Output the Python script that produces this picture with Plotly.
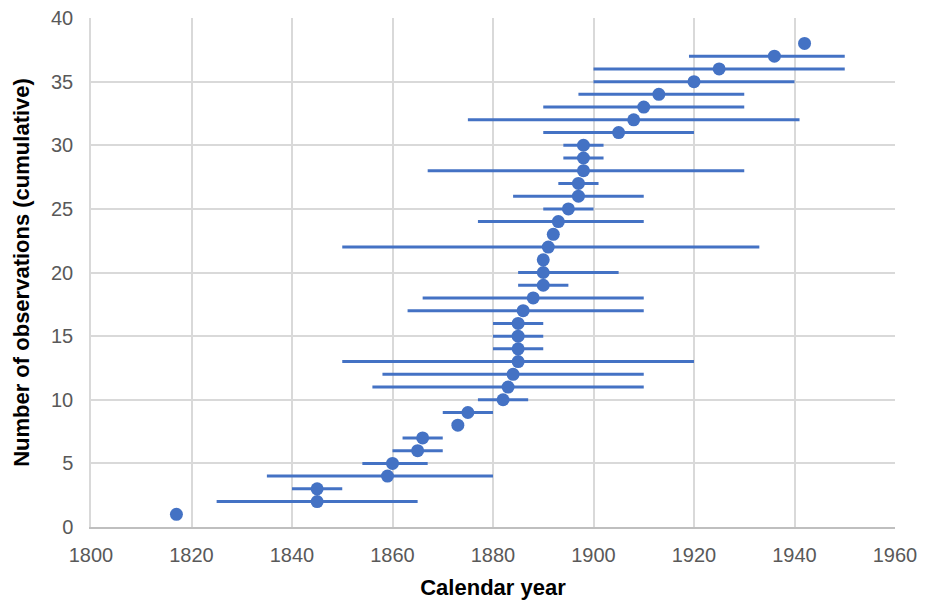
import plotly.graph_objects as go

count = list(range(1, 39))
year = [1817, 1845, 1845, 1859, 1860, 1865, 1866, 1873, 1875, 1882,
        1883, 1884, 1885, 1885, 1885, 1885, 1886, 1888, 1890, 1890,
        1890, 1891, 1892, 1893, 1895, 1897, 1897, 1898, 1898, 1898,
        1905, 1908, 1910, 1913, 1920, 1925, 1936, 1942]
lower = [1817, 1825, 1840, 1835, 1854, 1860, 1862, 1873, 1870, 1877,
         1856, 1858, 1850, 1880, 1880, 1880, 1863, 1866, 1885, 1885,
         1890, 1850, 1892, 1877, 1890, 1884, 1893, 1867, 1894, 1894,
         1890, 1875, 1890, 1897, 1900, 1900, 1919, 1942]
upper = [1817, 1865, 1850, 1880, 1867, 1870, 1870, 1873, 1880, 1887,
         1910, 1910, 1920, 1890, 1890, 1890, 1910, 1910, 1895, 1905,
         1890, 1933, 1892, 1910, 1900, 1910, 1901, 1930, 1902, 1902,
         1920, 1941, 1930, 1930, 1940, 1950, 1950, 1942]

plus = [u - y for u, y in zip(upper, year)]
minus = [y - l for y, l in zip(year, lower)]

blue = "#4472C4"
fig = go.Figure(go.Scatter(
    x=year, y=count, mode="markers",
    marker=dict(color=blue, size=13),
    error_x=dict(type="data", symmetric=False, array=plus, arrayminus=minus,
                 color=blue, thickness=3, width=0),
    showlegend=False,
))

font = "Arial, Liberation Sans, sans-serif"
fig.update_layout(
    width=931, height=600,
    margin=dict(l=91, r=36, t=18, b=73, autoexpand=False),
    paper_bgcolor="white", plot_bgcolor="white",
    font=dict(family=font, color="#595959", size=20),
    xaxis=dict(range=[1800, 1960], dtick=20, tick0=1800, automargin=False,
               showgrid=True, gridcolor="#d9d9d9", gridwidth=1.5,
               showline=True, linecolor="#bfbfbf", linewidth=2,
               zeroline=False, ticks="", ticklabelstandoff=9,
               title=dict(text="Calendar year", standoff=15,
                          font=dict(family=font, size=22, color="black", weight="bold"))),
    yaxis=dict(range=[0, 40], dtick=5, tick0=0, automargin=False,
               showgrid=True, gridcolor="#d9d9d9", gridwidth=1.5,
               showline=True, linecolor="#d9d9d9", linewidth=1.5,
               zeroline=False, ticks="", ticklabelstandoff=12,
               title=dict(text="Number of observations (cumulative)", standoff=15,
                          font=dict(family=font, size=22, color="black", weight="bold"))),
)

fig.write_html("out.html", config={"displayModeBar": False},
               post_script="document.body.style.margin='0';")
